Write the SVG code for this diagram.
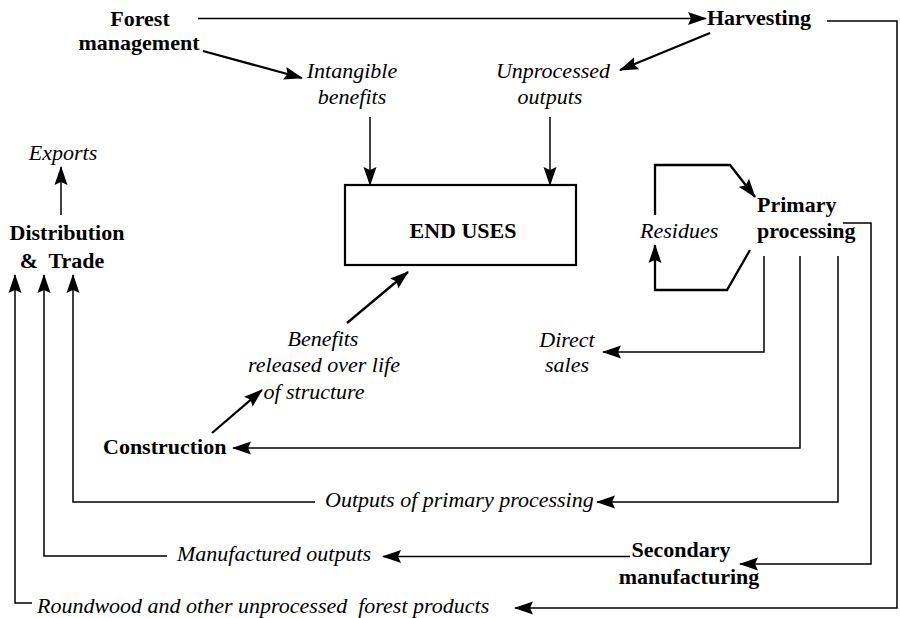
<svg xmlns="http://www.w3.org/2000/svg" width="900" height="618" viewBox="0 0 900 618">
  <style>
    .b { font-family: "Liberation Serif", serif; font-weight: bold; font-size: 22px; fill: #000; }
    .i { font-family: "Liberation Serif", serif; font-style: italic; font-size: 22px; fill: #000; }
    .m { text-anchor: middle; }
    .ln { fill: none; stroke: #000; stroke-width: 1.5; stroke-linejoin: miter; }
    .ln2 { fill: none; stroke: #000; stroke-width: 2.3; }
    .arr { marker-end: url(#head); }
  </style>
  <defs>
    <marker id="head" viewBox="0 0 19 14" markerWidth="19" markerHeight="14" refX="18" refY="7" orient="auto" markerUnits="userSpaceOnUse">
      <path d="M0,0.5 L19,7 L0,13.5 L3,7 z" fill="#000"/>
    </marker>
  </defs>
  <rect width="900" height="618" fill="#fff"/>

  <!-- connectors -->
  <g id="connectors">
    <!-- top row -->
    <path class="ln arr" d="M198,18.5 H706"/>
    <path class="ln2 arr" d="M203,51 L302,78"/>
    <path class="ln2 arr" d="M710,33 L620,70"/>
    <path class="ln arr" d="M370,117 V185"/>
    <path class="ln arr" d="M550,117 V185"/>
    <!-- harvesting to roundwood -->
    <path class="ln arr" d="M827,21 H897 V608 H515"/>
    <!-- residues loop -->
    <path class="ln2 arr" d="M655,215 V165 H730 L755,197"/>
    <path class="ln2 arr" d="M750,250 L727,290 H655 V245"/>
    <!-- primary processing outlets -->
    <path class="ln arr" d="M764,256 V352 H603"/>
    <path class="ln arr" d="M800,256 V448 H233"/>
    <path class="ln arr" d="M838,256 V502 H597"/>
    <path class="ln arr" d="M843,223 H871 V564 H740"/>
    <!-- construction benefits -->
    <path class="ln2 arr" d="M212,433 L262,390"/>
    <path class="ln2 arr" d="M347,323 L408,272"/>
    <!-- secondary to manufactured outputs -->
    <path class="ln arr" d="M630,556.5 H383"/>
    <!-- into distribution & trade -->
    <path class="ln arr" d="M315,502 H73 V275"/>
    <path class="ln arr" d="M167,556 H44 V275"/>
    <path class="ln arr" d="M32,603 H15 V275"/>
    <path class="ln arr" d="M61,215 V167"/>
  </g>

  <!-- nodes -->
  <g id="forest-management">
    <text class="b m" x="140" y="26">Forest</text>
    <text class="b m" x="139" y="50">management</text>
  </g>
  <g id="harvesting">
    <text class="b" x="707" y="25">Harvesting</text>
  </g>
  <g id="intangible-benefits">
    <text class="i m" x="352" y="78">Intangible</text>
    <text class="i m" x="352" y="104">benefits</text>
  </g>
  <g id="unprocessed-outputs">
    <text class="i m" x="553" y="78">Unprocessed</text>
    <text class="i m" x="550" y="104">outputs</text>
  </g>
  <g id="end-uses">
    <rect x="345" y="185" width="231" height="80" fill="none" stroke="#000" stroke-width="2.2"/>
    <text class="b m" x="463" y="238">END USES</text>
  </g>
  <g id="exports">
    <text class="i m" x="63" y="160">Exports</text>
  </g>
  <g id="distribution-trade">
    <text class="b m" x="67" y="240">Distribution</text>
    <text class="b m" x="62" y="268" xml:space="preserve">&amp;  Trade</text>
  </g>
  <g id="residues">
    <text class="i" x="640" y="238">Residues</text>
  </g>
  <g id="primary-processing">
    <text class="b" x="757" y="212">Primary</text>
    <text class="b" x="757" y="238">processing</text>
  </g>
  <g id="direct-sales">
    <text class="i m" x="567" y="347">Direct</text>
    <text class="i m" x="567" y="372">sales</text>
  </g>
  <g id="benefits-released">
    <text class="i m" x="323" y="346">Benefits</text>
    <text class="i m" x="324" y="372">released over life</text>
    <text class="i m" x="314" y="399">of structure</text>
  </g>
  <g id="construction">
    <text class="b" x="103" y="454">Construction</text>
  </g>
  <g id="outputs-primary">
    <text class="i" x="325" y="507">Outputs of primary processing</text>
  </g>
  <g id="manufactured-outputs">
    <text class="i" x="177" y="561">Manufactured outputs</text>
  </g>
  <g id="secondary-manufacturing">
    <text class="b m" x="681" y="557">Secondary</text>
    <text class="b m" x="689" y="584">manufacturing</text>
  </g>
  <g id="roundwood">
    <text class="i" x="37" y="613" xml:space="preserve">Roundwood and other unprocessed  forest products</text>
  </g>
</svg>
